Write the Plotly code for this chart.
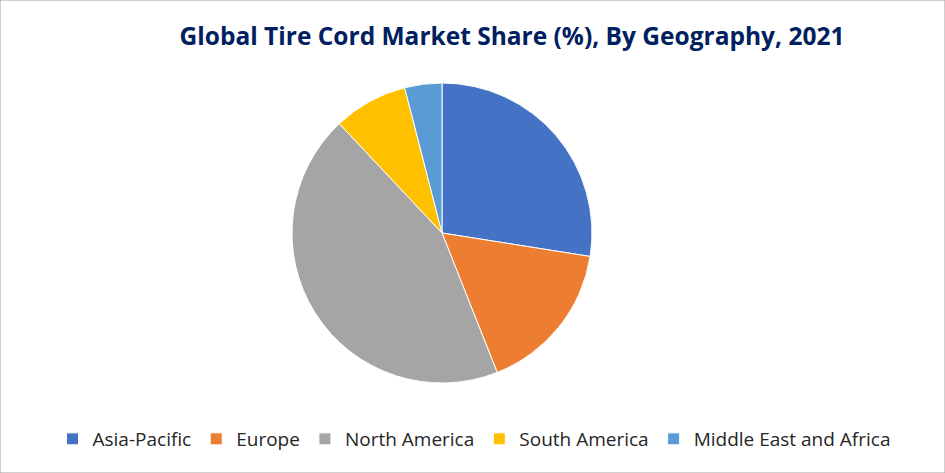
import plotly.graph_objects as go

regions = ["Asia-Pacific", "Europe", "North America", "South America", "Middle East and Africa"]
shares = [27.5, 16.5, 44.0, 8.0, 4.0]
colors = ["#4472C4", "#ED7D31", "#A5A5A5", "#FFC000", "#5B9BD5"]

W, H = 945, 473
cx, cy, r = 442, 233, 150

fig = go.Figure(go.Pie(
    labels=regions,
    values=shares,
    sort=False,
    direction="clockwise",
    rotation=0,
    marker=dict(colors=colors, line=dict(color="white", width=1)),
    textinfo="none",
    hoverinfo="label+percent",
    domain=dict(x=[(cx - r) / W, (cx + r) / W], y=[1 - (cy + r) / H, 1 - (cy - r) / H]),
))

fig.update_layout(
    width=W, height=H,
    margin=dict(l=0, r=0, t=0, b=0),
    paper_bgcolor="white",
    plot_bgcolor="white",
    title=dict(
        text="<b>Global Tire Cord Market Share (%), By Geography, 2021</b>",
        x=512 / W, xanchor="center",
        y=1 - 36 / H, yanchor="middle",
        font=dict(family="Open Sans", size=24.5, color="#002060"),
    ),
    legend=dict(
        orientation="h",
        x=474 / W, xanchor="center",
        y=1 - 439 / H, yanchor="middle",
        font=dict(family="Open Sans", size=19, color="#262626"),
        itemwidth=30,
        traceorder="normal",
    ),
    shapes=[dict(type="rect", xref="paper", yref="paper", x0=0, y0=0, x1=1, y1=1,
                 line=dict(color="#A0A0A0", width=1))],
)

fig.write_html("out.html", config={"displayModeBar": False},
               post_script="document.body.style.margin='0';")
